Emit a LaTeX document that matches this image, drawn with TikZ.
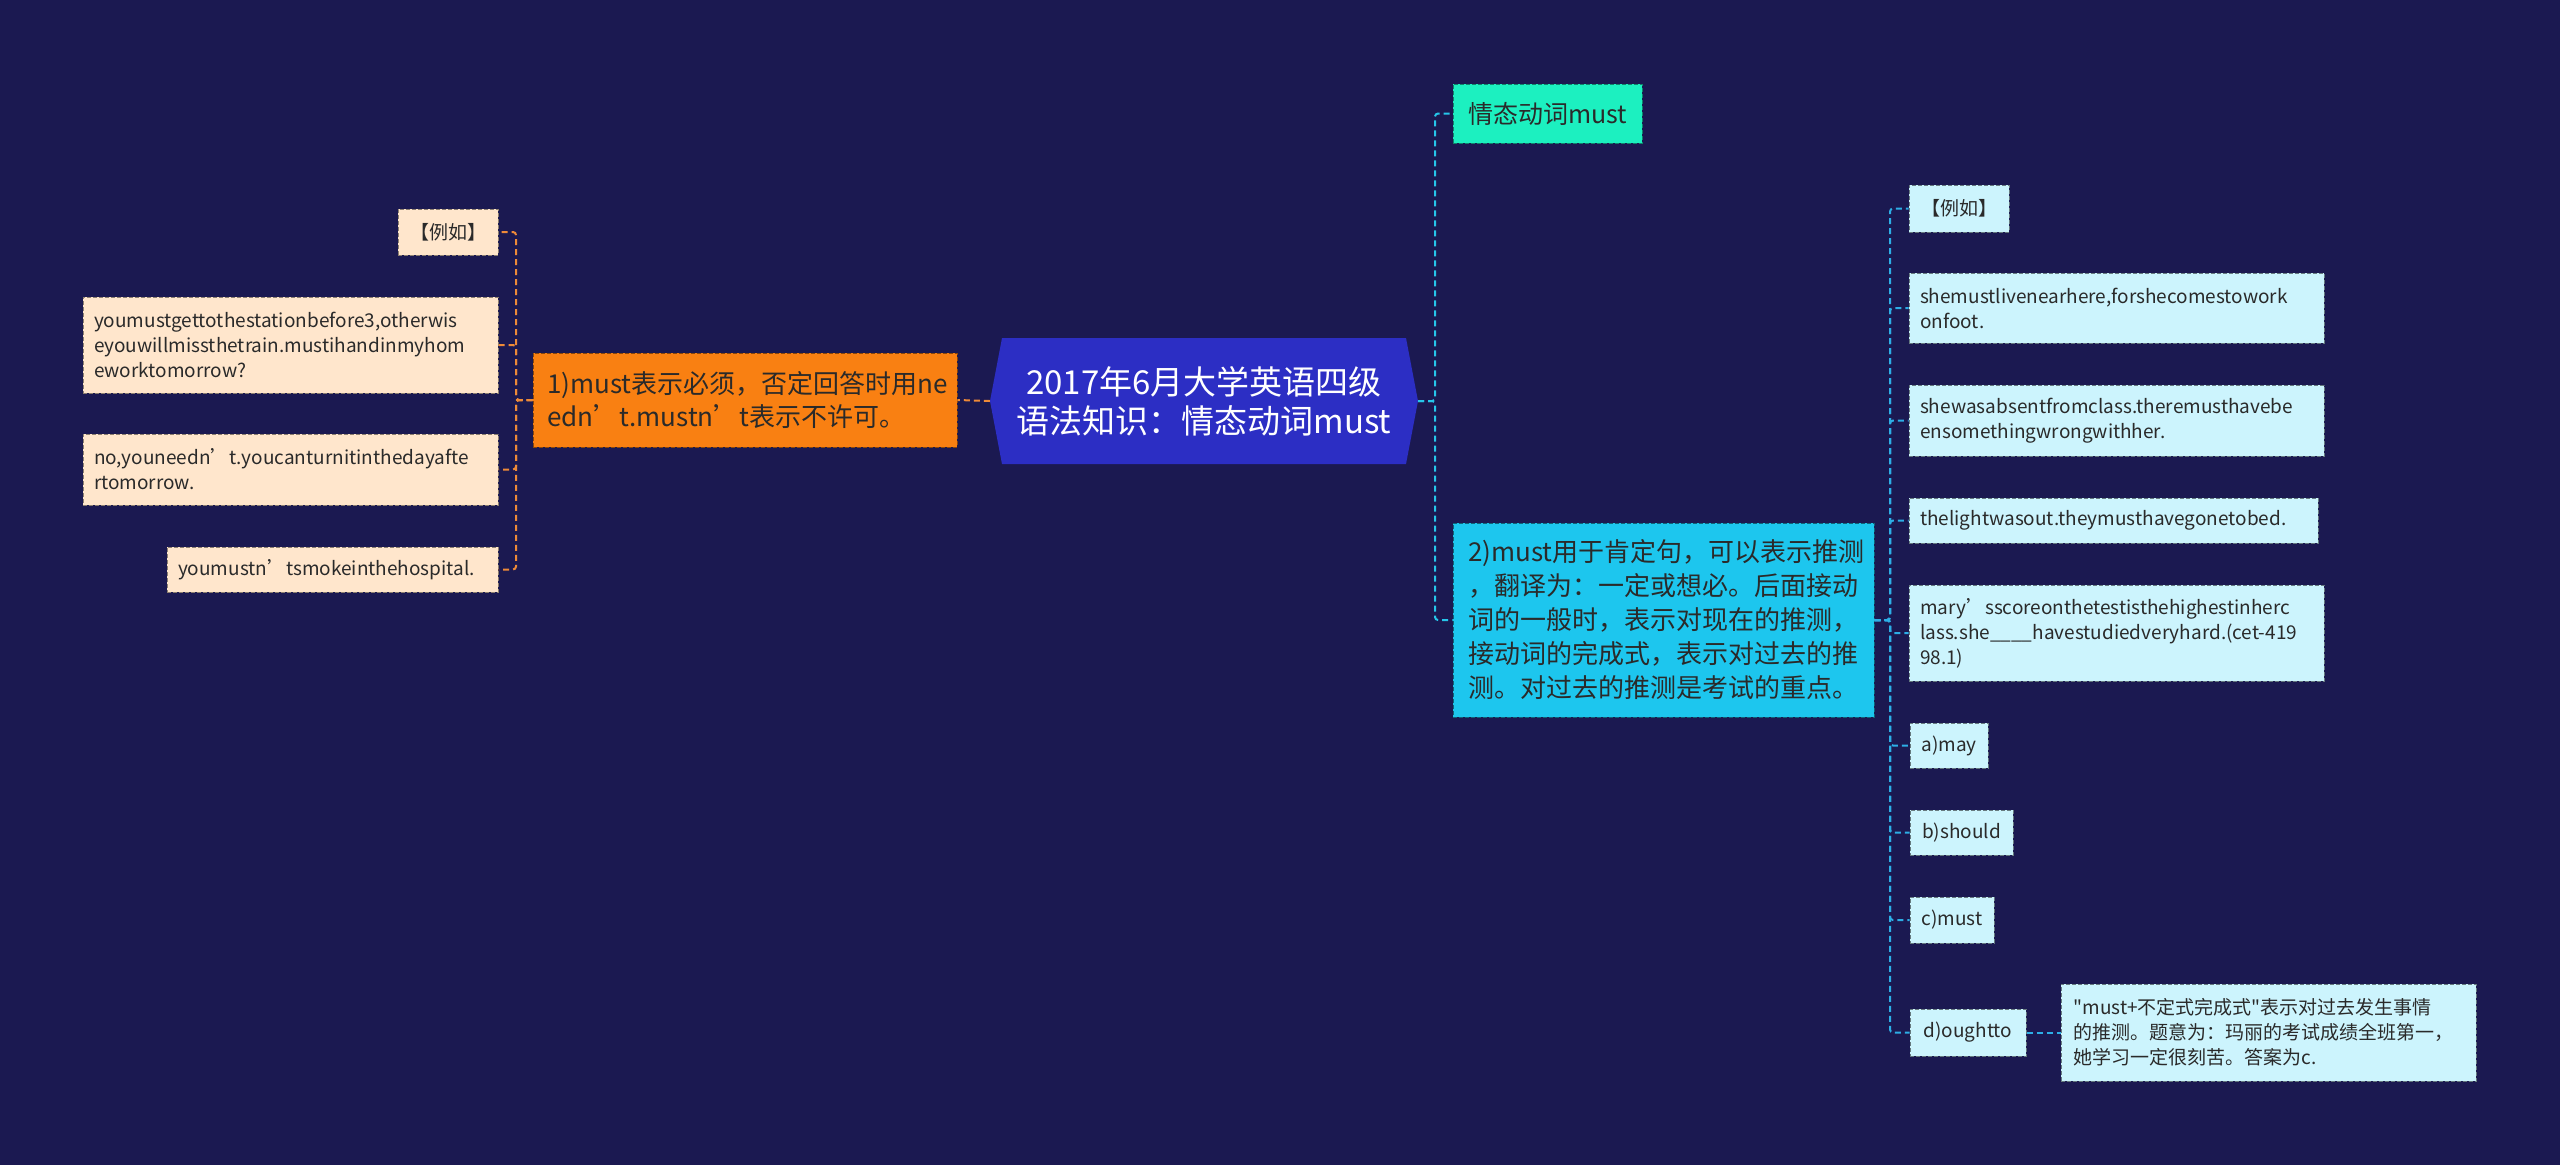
\documentclass[tikz,border=0pt]{standalone}
\usepackage{fontspec}
\setmainfont{Noto Sans CJK SC}[Ligatures=TeXOff]
\definecolor{bg}{HTML}{1B1951}
\definecolor{hubfill}{HTML}{2C2EC4}
\definecolor{orangefill}{HTML}{F98012}
\definecolor{peach}{HTML}{FFE6CC}
\definecolor{mint}{HTML}{1CF0C0}
\definecolor{cyanfill}{HTML}{1DC6EE}
\definecolor{lightcyan}{HTML}{CCF4FD}
\definecolor{lorange}{HTML}{EE8A38}
\definecolor{rcyan}{HTML}{26C6EA}
\definecolor{rblue}{HTML}{2DAEE6}
\definecolor{txt}{HTML}{2A2A2A}
\tikzset{
  boxbase/.style={rectangle, line width=1pt, dash pattern=on 4pt off 2pt, text=txt, inner ysep=0pt, align=left},
  pbox/.style={boxbase, fill=peach, draw=peach!55!black, inner xsep=11pt, font=\fontsize{19}{25}\selectfont},
  cbox/.style={boxbase, fill=lightcyan, draw=lightcyan!50!black, inner xsep=11pt, font=\fontsize{19}{25}\selectfont},
  obox/.style={boxbase, fill=orangefill, draw=orangefill!55!black, inner xsep=14pt, font=\fontsize{26}{33}\selectfont},
  mbox/.style={boxbase, fill=mint, draw=mint!55!black, inner xsep=10pt, align=center, font=\fontsize{25}{30}\selectfont},
  bbox/.style={boxbase, fill=cyanfill, draw=cyanfill!50!black, inner xsep=15pt, font=\fontsize{26}{34}\selectfont},
  hubtext/.style={rectangle, inner sep=0pt, text=white, align=center, font=\fontsize{33}{39}\selectfont},
  lconn/.style={draw=lorange, line width=2pt, dash pattern=on 6pt off 4pt, rounded corners=3pt},
  rconn/.style={draw=rcyan, line width=2pt, dash pattern=on 6pt off 4pt, rounded corners=3pt},
  rconnb/.style={draw=rblue, line width=2pt, dash pattern=on 6pt off 4pt, rounded corners=3pt}
}
\begin{document}
\begin{tikzpicture}[x=1pt,y=-1pt]
\fill[bg] (0,0) rectangle (2560,1165);
\useasboundingbox (0,0) rectangle (2560,1165);

% central hub
\fill[hubfill] (990,401) -- (1002,338) -- (1406,338) -- (1418,401) -- (1406,464) -- (1002,464) -- cycle;
\node[hubtext, minimum width=428pt, minimum height=126pt] (hub) at (1204,401) {2017年6月大学英语四级\\语法知识：情态动词must};

% left branch
\node[obox, text width=396pt, minimum height=94pt] (o1) at (745,400) {1)must表示必须，否定回答时用ne\\edn’t.mustn’t表示不许可。};
\node[pbox, align=center, minimum width=100pt, minimum height=46pt] (l1) at (448,232) {【例如】};
\node[pbox, text width=393pt, minimum height=96pt] (l2) at (290.5,345) {youmustgettothestationbefore3,otherwis\\eyouwillmissthetrain.mustihandinmyhom\\eworktomorrow?};
\node[pbox, text width=393pt, minimum height=71pt] (l3) at (290.5,469.5) {no,youneedn’t.youcanturnitinthedayafte\\rtomorrow.};
\node[pbox, text width=309pt, minimum height=45pt] (l4) at (332.5,569.5) {youmustn’tsmokeinthehospital.};

% right branch
\node[mbox, minimum width=189pt, minimum height=59pt] (n0) at (1547.5,113.5) {情态动词must};
\node[bbox, text width=391pt, minimum height=194pt] (n2) at (1663.5,620) {2)must用于肯定句，可以表示推测\\，翻译为：一定或想必。后面接动\\词的一般时，表示对现在的推测，\\接动词的完成式，表示对过去的推\\测。对过去的推测是考试的重点。};

\node[cbox, align=center, minimum width=100pt, minimum height=47pt] (r1) at (1959,208.5) {【例如】};
\node[cbox, text width=393pt, minimum height=70pt] (r2) at (2116.5,308) {shemustlivenearhere,forshecomestowork\\onfoot.};
\node[cbox, text width=393pt, minimum height=71pt] (r3) at (2116.5,420.5) {shewasabsentfromclass.theremusthavebe\\ensomethingwrongwithher.};
\node[cbox, text width=387pt, minimum height=45pt] (r4) at (2113.5,520.5) {thelightwasout.theymusthavegonetobed.};
\node[cbox, text width=393pt, minimum height=96pt] (r5) at (2116.5,633) {mary’sscoreonthetestisthehighestinherc\\lass.she\_\_\_\_havestudiedveryhard.(cet-419\\98.1)};
\node[cbox, align=center, inner xsep=0pt, minimum width=78pt, minimum height=45pt] (r6) at (1949,745.5) {a)may};
\node[cbox, align=center, inner xsep=0pt, minimum width=103pt, minimum height=45pt] (r7) at (1961.5,832.5) {b)should};
\node[cbox, align=center, inner xsep=0pt, minimum width=84pt, minimum height=46pt] (r8) at (1952,920) {c)must};
\node[cbox, align=center, inner xsep=0pt, minimum width=116pt, minimum height=47pt] (r9) at (1968,1032.5) {d)oughtto};
\node[cbox, inner xsep=12.5pt, text width=390pt, minimum height=97pt] (r10) at (2268.5,1032.5) {"must+不定式完成式"表示对过去发生事情\\的推测。题意为：玛丽的考试成绩全班第一，\\她学习一定很刻苦。答案为c.};

% connectors
\draw[lconn] (hub.west) -- (o1.east);
\foreach \c in {l1,l2,l3,l4} \draw[lconn] (o1.west) -- (516,400) |- (\c.east);
\foreach \c in {n0,n2} \draw[rconn] (hub.east) -- (1435,401) |- (\c.west);
\foreach \c in {r1,r2,r3,r4,r5,r6,r7,r8,r9} \draw[rconnb] (n2.east) -- (1890,620) |- (\c.west);
\draw[rconnb] (r9.east) -- (r10.west);
\end{tikzpicture}
\end{document}
